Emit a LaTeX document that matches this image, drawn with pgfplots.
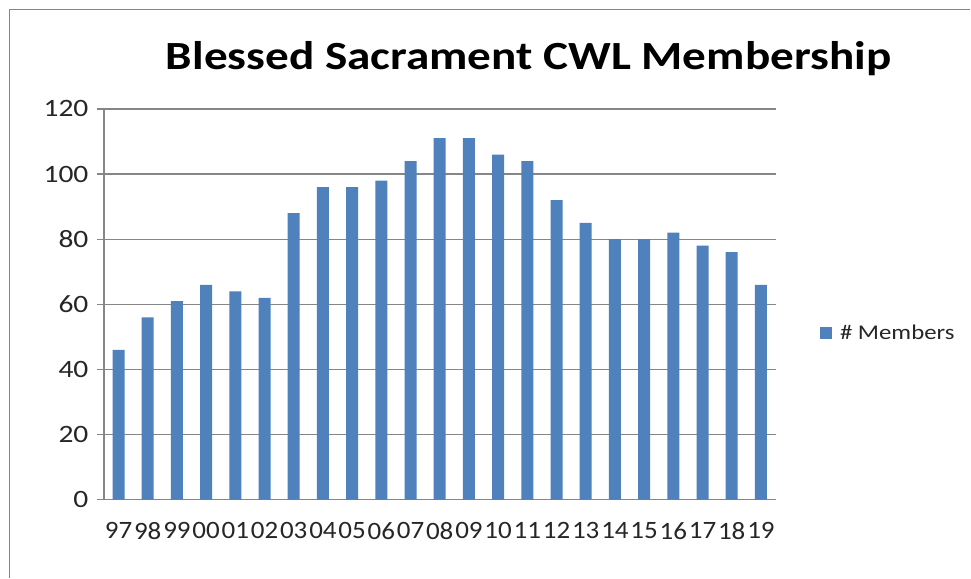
\documentclass[border=0pt]{standalone}
\usepackage{fontspec}
\setmainfont{Carlito}[FakeStretch=1.18]
\newfontfamily\xlabfont{Carlito}[FakeStretch=1.08]
\usepackage{pgfplots}
\pgfplotsset{compat=1.18}
\definecolor{barblue}{HTML}{4F81BD}
\definecolor{gridgray}{HTML}{868686}
\begin{document}
\begin{tikzpicture}[x=1pt,y=1pt]
\fill[white] (0,0) rectangle (971,578);
\draw[gridgray,line width=1.2pt] (9.5,0) -- (9.5,568.5) -- (971,568.5);
\node[font=\fontsize{40}{48}\selectfont\bfseries,anchor=base] at (529,508) {Blessed Sacrament CWL Membership};
\begin{axis}[
  at={(104pt,78pt)}, anchor=south west,
  scale only axis, width=672pt, height=391pt,
  /pgf/number format/assume math mode=true,
  ybar, bar width=12pt,
  xmin=-0.5, xmax=22.5, ymin=0, ymax=120,
  ytick={0,20,...,120},
  xtick={0,...,22},
  xticklabels={97,98,99,00,01,02,03,04,05,06,07,08,09,10,11,12,13,14,15,16,17,18,19},
  minor xtick={-0.5,0.5,...,22.5},
  major x tick style={draw=none},
  xtick style={draw=none},
  minor tick length=7pt,
  major tick length=7pt,
  minor x tick style={gridgray,line width=1.2pt},
  ytick style={gridgray,line width=1.2pt},
  tick align=outside,
  ymajorgrids, grid style={gridgray,line width=1.2pt},
  axis x line*=bottom, axis y line*=left,
  axis line style={gridgray,line width=1.2pt,-},
  ticklabel style={font=\fontsize{25}{30}\selectfont, text=black!85},
  yticklabel style={xshift=-5pt},
  xticklabel style={yshift=-12pt, inner xsep=0pt, font=\fontsize{25}{30}\selectfont\xlabfont},
  legend style={at={(1.066,0.427)}, anchor=west, draw=none, inner sep=0pt, font=\fontsize{21}{26}\selectfont, text=black!85, legend cell align=left},
  legend image code/.code={\fill[barblue] (0pt,-6pt) rectangle (12pt,6pt);},
  legend style={nodes={inner xsep=8pt}},
]
\addplot[fill=barblue, draw=none] coordinates {
(0,46) (1,56) (2,61) (3,66) (4,64) (5,62) (6,88) (7,96) (8,96) (9,98) (10,104)
(11,111) (12,111) (13,106) (14,104) (15,92) (16,85) (17,80) (18,80) (19,82) (20,78) (21,76) (22,66)
};
\addlegendentry{\# Members}
\end{axis}
\end{tikzpicture}
\end{document}
